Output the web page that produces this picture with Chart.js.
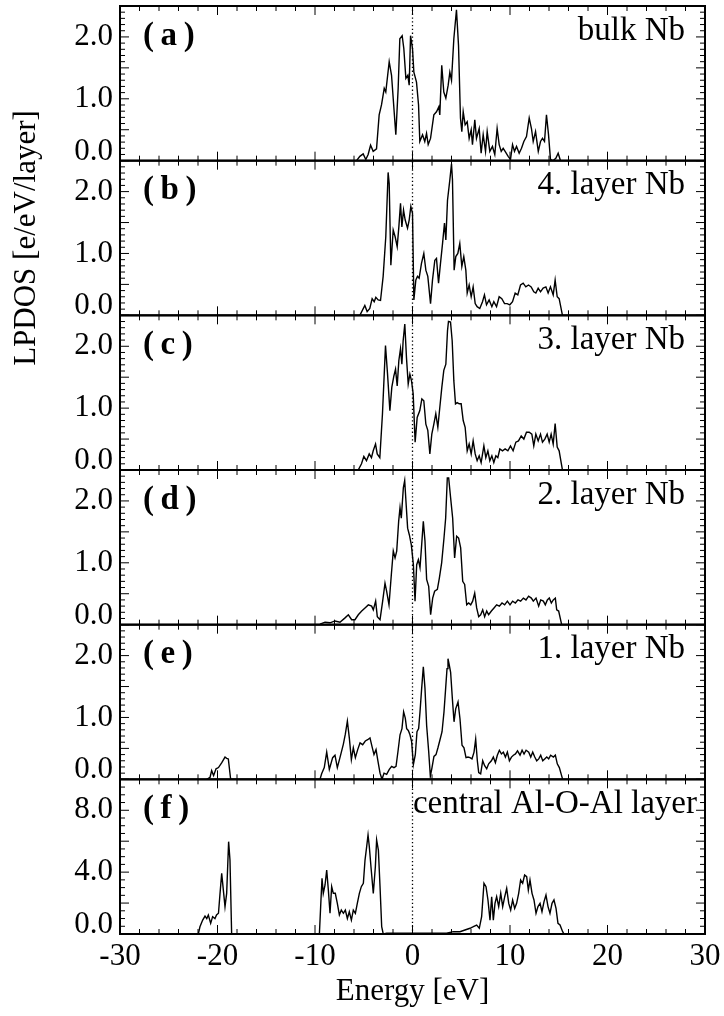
<!DOCTYPE html>
<html>
<head>
<meta charset="utf-8">
<script src="https://cdn.jsdelivr.net/npm/chart.js@4.4.0/dist/chart.umd.min.js"></script>
<style>
  html, body { margin: 0; padding: 0; background: #fff; }
  #chart { display: block; }
</style>
</head>
<body>
<canvas id="chart" width="724" height="1016"></canvas>
<script>
// panel labels, top to bottom
const panelIds = ['a', 'b', 'c', 'd', 'e', 'f'];
const panelTags = ['(a)', '(b)', '(c)', '(d)', '(e)', '(f)'];
const panelNames = ['bulk Nb', '4. layer Nb', '3. layer Nb', '2. layer Nb', '1. layer Nb', 'central Al-O-Al layer'];

const xTickLabels = [-30, -20, -10, 0, 10, 20, 30];
const nbTickLabels = [0, 1, 2];
const alTickLabels = [0, 4, 8];
const nbMax = 2.5;
const alMax = 10;

// [energy (eV), LPDOS]
const dosA = [[-5.74,0],[-5.4,0.07],[-5.06,0.11],[-4.79,0.02],[-4.55,0.1],[-4.3,0.25],[-4.03,0.15],[-3.69,0.19],[-3.42,0.74],[-3.18,0.9],[-2.9,1.17],[-2.74,1.11],[-2.39,1.6],[-2.15,1.38],[-1.71,0.42],[-1.47,1.17],[-1.3,1.97],[-1.06,2.02],[-0.89,1.81],[-0.68,1.33],[-0.48,1.38],[-0.34,1.22],[-0.2,2.02],[0,1.81],[0.14,1.43],[0.41,1.27],[0.62,0.9],[0.75,0.31],[1.03,0.42],[1.26,0.31],[1.44,0.44],[1.61,0.26],[1.85,0.36],[2.19,0.74],[2.46,0.79],[2.7,0.87],[2.8,0.74],[3.0,1.54],[3.21,1.11],[3.42,1.01],[3.66,1.22],[3.83,1.43],[4.0,1.3],[4.24,1.97],[4.51,2.44],[4.72,1.86],[4.92,0.69],[5.06,0.47],[5.2,0.79],[5.4,0.58],[5.61,0.63],[5.81,0.36],[6.02,0.5],[6.15,0.26],[6.39,0.66],[6.56,0.36],[6.84,0.52],[7.04,0.12],[7.25,0.42],[7.49,0.15],[7.66,0.47],[7.93,0.15],[8.2,0.23],[8.44,0.1],[8.68,0.52],[8.89,0.26],[9.1,0.15],[9.3,0.2],[9.5,0.15],[9.81,0.07],[10.05,0.02],[10.26,0.26],[10.46,0.15],[10.67,0.23],[10.94,0.12],[11.18,0.2],[11.42,0.31],[11.69,0.39],[11.97,0.69],[12.2,0.52],[12.38,0.31],[12.62,0.47],[12.9,0.15],[13.13,0.31],[13.33,0.36],[13.54,0.31],[13.74,0.74],[13.95,0.42],[14.15,0.02],[14.4,0],[14.7,0.04],[14.94,0.12],[15.18,0]];

const dosB = [[-5.4,0],[-4.89,0.16],[-4.65,0.06],[-4.38,0.11],[-4.14,0.27],[-3.93,0.22],[-3.76,0.29],[-3.52,0.25],[-3.28,0.24],[-3.01,0.63],[-2.74,1.27],[-2.5,2.31],[-2.39,2.13],[-2.22,0.81],[-1.98,1.38],[-1.78,1.27],[-1.57,1.11],[-1.4,1.43],[-1.23,1.81],[-1.09,1.43],[-0.92,1.7],[-0.75,1.54],[-0.51,1.41],[-0.34,1.54],[-0.17,1.76],[0,1.65],[0.14,0.25],[0.34,0.57],[0.51,0.63],[0.68,0.6],[0.92,0.84],[1.16,1.0],[1.37,0.73],[1.57,0.63],[1.85,0.19],[2.05,0.57],[2.29,0.89],[2.46,0.92],[2.67,0.52],[2.87,0.84],[3.08,1.16],[3.28,1.49],[3.42,1.22],[3.59,1.86],[3.83,2.19],[4.0,2.45],[4.1,2.19],[4.27,0.73],[4.44,0.95],[4.65,1.0],[4.85,1.16],[5.06,0.79],[5.26,0.95],[5.47,0.73],[5.61,0.36],[5.81,0.49],[6.02,0.3],[6.22,0.46],[6.43,0.19],[6.63,0.14],[6.9,0.11],[7.18,0.22],[7.38,0.33],[7.59,0.17],[7.86,0.25],[8.14,0.14],[8.34,0.22],[8.62,0.14],[8.89,0.3],[9.16,0.27],[9.44,0.19],[9.71,0.19],[9.98,0.17],[10.26,0.22],[10.53,0.36],[10.8,0.33],[11.08,0.49],[11.35,0.52],[11.62,0.46],[11.9,0.49],[12.17,0.46],[12.44,0.38],[12.65,0.36],[12.89,0.44],[13.13,0.38],[13.4,0.44],[13.68,0.46],[13.91,0.36],[14.15,0.46],[14.43,0.33],[14.63,0.57],[14.84,0.3],[15.04,0.27],[15.38,0]];

const dosC = [[-5.57,0],[-5.23,0.1],[-4.99,0.22],[-4.72,0.15],[-4.44,0.26],[-4.21,0.2],[-4.03,0.31],[-3.79,0.42],[-3.62,0.26],[-3.35,0.2],[-3.08,0.91],[-2.77,2.01],[-2.56,1.55],[-2.32,0.96],[-2.12,1.34],[-1.91,1.52],[-1.74,1.63],[-1.57,1.36],[-1.4,1.77],[-1.23,1.96],[-1.09,1.71],[-0.96,2.09],[-0.79,2.36],[-0.62,1.82],[-0.44,1.39],[-0.27,1.55],[-0.1,1.44],[0.07,1.23],[0.27,0.45],[0.48,0.85],[0.75,0.96],[0.96,1.15],[1.16,1.12],[1.37,0.74],[1.57,0.64],[1.78,0.26],[1.98,0.58],[2.19,0.74],[2.39,0.91],[2.6,0.69],[2.8,1.01],[3.01,1.34],[3.21,1.61],[3.42,1.71],[3.59,2.25],[3.69,2.4],[3.9,2.39],[4.07,2.09],[4.24,1.44],[4.41,1.07],[4.58,1.09],[4.79,1.07],[4.99,1.07],[5.2,0.8],[5.4,0.69],[5.61,0.31],[5.81,0.42],[6.02,0.26],[6.22,0.47],[6.43,0.26],[6.63,0.15],[6.84,0.23],[7.04,0.12],[7.32,0.39],[7.52,0.2],[7.73,0.31],[7.93,0.15],[8.14,0.23],[8.34,0.12],[8.55,0.23],[8.75,0.2],[8.96,0.34],[9.23,0.31],[9.5,0.34],[9.78,0.31],[10.05,0.39],[10.32,0.31],[10.6,0.45],[10.87,0.47],[11.15,0.55],[11.42,0.5],[11.69,0.61],[11.97,0.61],[12.24,0.58],[12.44,0.39],[12.65,0.58],[12.89,0.47],[13.13,0.58],[13.33,0.45],[13.57,0.5],[13.81,0.58],[14.02,0.45],[14.22,0.58],[14.43,0.42],[14.63,0.75],[14.84,0.37],[15.04,0.31],[15.38,0]];

const dosD = [[-9.49,0.01],[-8.97,0.04],[-8.46,0.03],[-7.95,0.06],[-7.44,0.04],[-6.92,0.11],[-6.58,0.16],[-6.24,0.08],[-5.9,0.08],[-5.56,0.16],[-5.21,0.22],[-4.87,0.27],[-4.53,0.32],[-4.19,0.3],[-4.02,0.24],[-3.78,0.38],[-3.61,0.13],[-3.33,0.08],[-3.06,0.38],[-2.82,0.67],[-2.65,0.54],[-2.41,0.32],[-2.17,0.81],[-1.97,1.19],[-1.79,1.08],[-1.62,1.19],[-1.42,1.67],[-1.28,1.89],[-1.15,1.72],[-0.94,2.21],[-0.8,2.33],[-0.67,1.99],[-0.5,1.56],[-0.32,1.45],[-0.12,1.29],[0.09,0.97],[0.26,0.38],[0.43,0.97],[0.6,1.05],[0.77,0.92],[0.94,1.29],[1.11,1.67],[1.28,1.35],[1.45,0.73],[1.66,0.62],[1.86,0.16],[2.07,0.43],[2.27,0.54],[2.55,0.57],[2.75,0.75],[2.99,1.0],[3.23,1.4],[3.4,1.72],[3.57,2.37],[3.71,2.37],[3.91,2.05],[4.12,1.72],[4.32,1.08],[4.53,1.43],[4.73,1.4],[4.94,1.24],[5.15,0.7],[5.35,0.65],[5.56,0.32],[5.76,0.35],[5.97,0.32],[6.17,0.38],[6.38,0.51],[6.58,0.27],[6.79,0.13],[6.99,0.16],[7.2,0.24],[7.4,0.13],[7.61,0.22],[7.81,0.16],[8.09,0.22],[8.36,0.27],[8.63,0.32],[8.91,0.3],[9.18,0.35],[9.45,0.32],[9.73,0.38],[10.0,0.32],[10.27,0.38],[10.55,0.35],[10.82,0.4],[11.09,0.38],[11.37,0.43],[11.64,0.4],[11.91,0.46],[12.19,0.43],[12.39,0.38],[12.67,0.43],[12.94,0.3],[13.15,0.4],[13.42,0.38],[13.62,0.32],[13.83,0.4],[14.03,0.43],[14.24,0.35],[14.44,0.4],[14.65,0.43],[14.79,0.24],[14.99,0.22],[15.3,0]];

const dosE = [[-21.1,0],[-20.77,0.03],[-20.6,0.14],[-20.4,0.06],[-20.15,0.17],[-19.9,0.19],[-19.56,0.27],[-19.23,0.36],[-19.06,0.34],[-18.89,0.33],[-18.65,0],[-9.49,0],[-9.32,0.09],[-9.05,0.19],[-8.8,0.44],[-8.53,0.16],[-8.19,0.35],[-7.95,0.39],[-7.71,0.19],[-7.44,0.35],[-7.09,0.57],[-6.89,0.73],[-6.68,0.94],[-6.48,0.67],[-6.27,0.32],[-6.07,0.51],[-5.86,0.35],[-5.62,0.48],[-5.38,0.59],[-5.11,0.56],[-4.84,0.62],[-4.6,0.64],[-4.36,0.67],[-4.15,0.53],[-3.95,0.4],[-3.74,0.48],[-3.54,0.29],[-3.33,0.1],[-3.13,0],[-2.92,0.1],[-2.65,0.08],[-2.38,0.16],[-2.14,0.21],[-1.9,0.19],[-1.69,0.21],[-1.49,0.45],[-1.28,0.72],[-1.08,0.82],[-0.91,1.09],[-0.74,0.99],[-0.6,0.82],[-0.43,0.79],[-0.26,0.72],[-0.09,0.61],[0.09,0.24],[0.29,0.4],[0.46,0.77],[0.63,0.82],[0.77,1.09],[0.94,1.47],[1.11,1.82],[1.28,1.47],[1.45,0.87],[1.66,0.45],[1.83,0.05],[2.0,0.19],[2.2,0.37],[2.41,0.4],[2.61,0.51],[2.82,0.64],[3.03,0.77],[3.23,1.09],[3.4,1.47],[3.54,1.79],[3.64,1.95],[3.78,1.84],[3.91,1.73],[4.09,1.3],[4.26,0.93],[4.43,1.14],[4.67,1.25],[4.87,0.98],[5.08,0.55],[5.28,0.51],[5.49,0.35],[5.69,0.36],[5.9,0.35],[6.1,0.33],[6.31,0.44],[6.48,0.65],[6.65,0.3],[6.79,0.11],[6.99,0.09],[7.2,0.3],[7.4,0.22],[7.61,0.17],[7.81,0.25],[8.09,0.3],[8.29,0.36],[8.5,0.27],[8.7,0.39],[8.91,0.47],[9.12,0.41],[9.32,0.44],[9.53,0.36],[9.73,0.44],[9.94,0.3],[10.15,0.36],[10.35,0.39],[10.56,0.41],[10.77,0.46],[11.03,0.39],[11.24,0.47],[11.44,0.41],[11.65,0.47],[11.92,0.44],[12.13,0.36],[12.33,0.44],[12.54,0.36],[12.74,0.3],[12.95,0.33],[13.15,0.39],[13.36,0.3],[13.56,0.33],[13.77,0.36],[13.97,0.33],[14.17,0.39],[14.45,0.36],[14.65,0.39],[14.85,0.25],[15.06,0.19],[15.4,0]];

const dosF = [[-21.97,0],[-21.8,0.47],[-21.52,0.9],[-21.28,1.16],[-21.1,1.0],[-20.94,1.23],[-20.7,0.69],[-20.5,1.12],[-20.26,1.0],[-20.1,1.23],[-19.9,1.34],[-19.74,2.63],[-19.57,3.92],[-19.4,2.84],[-19.23,1.77],[-19.06,2.63],[-18.86,5.97],[-18.72,4.78],[-18.55,0],[-9.55,0],[-9.42,1.77],[-9.28,3.6],[-9.15,2.63],[-8.97,3.17],[-8.8,4.14],[-8.63,2.84],[-8.46,1.34],[-8.29,3.06],[-8.12,2.63],[-7.92,2.63],[-7.71,1.98],[-7.5,1.23],[-7.3,1.55],[-7.09,1.34],[-6.89,1.55],[-6.68,1.0],[-6.48,1.44],[-6.27,0.9],[-6.07,1.55],[-5.86,1.34],[-5.66,1.98],[-5.45,2.63],[-5.25,3.06],[-5.04,3.28],[-4.87,4.78],[-4.7,5.65],[-4.56,6.4],[-4.43,5.65],[-4.26,4.35],[-4.02,2.63],[-3.81,4.35],[-3.68,6.08],[-3.5,5.43],[-3.33,3.06],[-3.16,0.47],[-3.0,0],[-2.65,0.05],[-1.0,0.05],[3.5,0.05],[4.19,0.15],[4.87,0.15],[5.38,0.26],[5.9,0.37],[6.24,0.47],[6.58,0.58],[6.85,0.37],[7.09,1.12],[7.33,3.28],[7.54,3.06],[7.74,2.2],[7.95,0.9],[8.12,2.41],[8.29,0.9],[8.46,1.98],[8.63,2.41],[8.84,1.77],[9.05,2.63],[9.25,1.77],[9.46,2.41],[9.66,2.95],[9.87,1.98],[10.07,1.55],[10.27,2.2],[10.48,1.66],[10.68,1.98],[10.89,2.63],[11.09,3.49],[11.3,3.28],[11.5,3.81],[11.71,3.71],[11.88,2.84],[12.05,3.49],[12.26,2.63],[12.46,2.2],[12.67,1.34],[12.87,1.77],[13.08,1.98],[13.28,1.44],[13.49,2.09],[13.69,2.52],[13.9,1.77],[14.1,1.34],[14.31,1.98],[14.51,2.2],[14.72,1.66],[14.92,0.69],[15.13,0.58],[15.4,0.15],[15.54,0]];

const panelData = [dosA, dosB, dosC, dosD, dosE, dosF];

const serif = '"Liberation Serif", "Times New Roman", serif';

const datasets = panelData.map((pts, i) => ({
    label: panelNames[i],
    data: pts.map(p => ({x: p[0], y: p[1]})),
    yAxisID: 'y' + panelIds[i],
    borderColor: '#000',
    borderWidth: 1.4,
    pointRadius: 0,
    fill: false,
    tension: 0
}));

let scales = {
    x: {
        type: 'linear', min: -30, max: 30,
        ticks: {display: false},
        grid: {display: false, drawTicks: false},
        border: {display: false},
        afterFit: s => { s.height = 82; }
    }
};
// left stacked axes are laid out in reverse order, so (f) goes in first
for (let i = panelIds.length - 1; i >= 0; i--) {
    scales['y' + panelIds[i]] = {
        type: 'linear', position: 'left', stack: 'dos', stackWeight: 1,
        min: 0, max: i < 5 ? nbMax : alMax,
        ticks: {display: false},
        grid: {display: false, drawTicks: false},
        border: {display: false},
        afterFit: s => { s.width = 120; }
    };
}

// frames, inward ticks, labels and the dotted Fermi line
const framePlugin = {
    id: 'frames',
    afterDatasetsDraw(chart) {
        const ctx = chart.ctx;
        const xs = chart.scales.x;
        const area = chart.chartArea;
        ctx.save();
        ctx.strokeStyle = '#000';
        ctx.fillStyle = '#000';

        let x0 = xs.getPixelForValue(0);
        ctx.lineWidth = 1.3;
        ctx.setLineDash([1.3, 2.5]);
        ctx.beginPath();
        ctx.moveTo(x0, area.top);
        ctx.lineTo(x0, area.bottom);
        ctx.stroke();
        ctx.setLineDash([]);

        panelIds.forEach((id, i) => {
            let ys = chart.scales['y' + id];
            let top = ys.top, bot = ys.bottom;
            let L = area.left, R = area.right;
            let al = i == 5;

            ctx.lineWidth = 1;
            ctx.beginPath();
            for (let e = -30; e <= 30; e += 2) {
                let px = xs.getPixelForValue(e);
                let len = e % 10 == 0 ? 9 : 5;
                ctx.moveTo(px, bot); ctx.lineTo(px, bot - len);
                ctx.moveTo(px, top); ctx.lineTo(px, top + len);
            }
            let minor = al ? 0.5 : 0.1, major = al ? 2 : 0.5;
            let n = Math.round(ys.max / minor);
            for (let k = 0; k <= n; k++) {
                let v = k * minor;
                let py = ys.getPixelForValue(v);
                let r = v / major;
                let len = Math.abs(r - Math.round(r)) < 1e-6 ? 9 : 5;
                ctx.moveTo(L, py); ctx.lineTo(L + len, py);
                ctx.moveTo(R, py); ctx.lineTo(R - len, py);
            }
            ctx.stroke();

            ctx.lineWidth = 2;
            ctx.strokeRect(L, top, R - L, bot - top);

            // y tick labels
            ctx.font = '31px ' + serif;
            ctx.textAlign = 'right';
            ctx.textBaseline = 'middle';
            (al ? alTickLabels : nbTickLabels).forEach(v => {
                let py = ys.getPixelForValue(v);
                if (v == 0) py -= 9;
                ctx.fillText(v.toFixed(1), L - 7, py);
            });

            // panel tag and name
            ctx.textAlign = 'left';
            ctx.font = 'bold 33px ' + serif;
            ctx.fillText(panelTags[i].split('').join('\u2009'), L + 23, top + 30);
            ctx.textAlign = 'right';
            ctx.font = '33px ' + serif;
            ctx.fillText(panelNames[i], al ? R - 8 : R - 20, top + 25);
        });

        // x tick labels and axis titles
        ctx.font = '31px ' + serif;
        ctx.textAlign = 'center';
        ctx.textBaseline = 'middle';
        xTickLabels.forEach(v => {
            ctx.fillText(String(v), xs.getPixelForValue(v), area.bottom + 23);
        });
        ctx.fillText('Energy [eV]', xs.getPixelForValue(0), area.bottom + 58);

        ctx.translate(27, 238);
        ctx.rotate(-Math.PI / 2);
        ctx.fillText('LPDOS [e/eV/layer]', 0, 0);
        ctx.restore();
    }
};

new Chart(document.getElementById('chart').getContext('2d'), {
    type: 'line',
    data: {datasets: datasets},
    options: {
        responsive: false,
        animation: false,
        devicePixelRatio: 1,
        layout: {padding: {top: 6, right: 19, bottom: 0, left: 0}},
        plugins: {legend: {display: false}, tooltip: {enabled: false}},
        scales: scales
    },
    plugins: [framePlugin]
});
</script>
</body>
</html>
